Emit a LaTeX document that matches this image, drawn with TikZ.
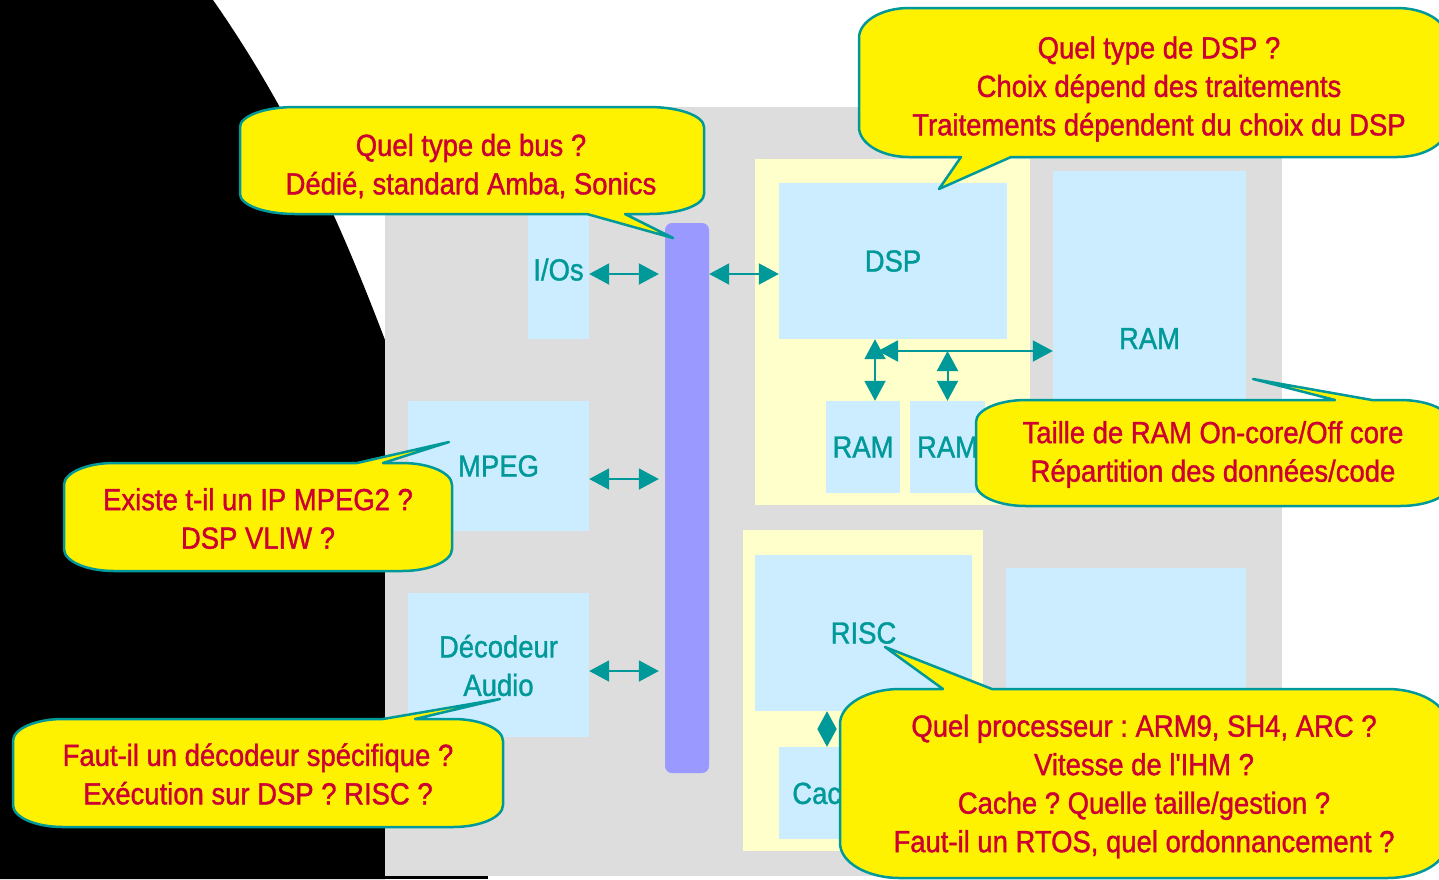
\documentclass[tikz,border=0pt]{standalone}
\usepackage{fontspec}
\setmainfont{Liberation Sans}[FakeStretch=0.9, FakeBold=1.2]
\newfontfamily\plainq{Liberation Sans}[FakeStretch=0.9, FakeBold=1.2]
\frenchspacing
\usetikzlibrary{arrows.meta}
\definecolor{tealc}{HTML}{009999}
\definecolor{redc}{HTML}{CC0033}
\definecolor{lblue}{HTML}{CCECFF}
\definecolor{lyell}{HTML}{FFFFCC}
\definecolor{grayc}{HTML}{DDDDDD}
\definecolor{busc}{HTML}{9999FF}
\tikzset{
  box/.style={fill=lblue, inner sep=0pt, text=tealc, font=\fontsize{30.5}{38.5}\selectfont, align=center},
  zone/.style={fill=lyell, inner sep=0pt},
  link/.style={draw=tealc, color=tealc, line width=2pt, {Triangle[length=20pt,width=21pt]}-{Triangle[length=20pt,width=21pt]}},
  linkd/.style={draw=tealc, color=tealc, line width=2pt, {Triangle[length=18pt,width=19pt]}-{Triangle[length=18pt,width=19pt]}},
  call/.style={fill=yellow, draw=tealc, line width=2.5pt, line join=round},
  qtext/.style={text=redc, font=\fontsize{30.5}{38.5}\selectfont, align=center, inner sep=0pt}
}
% callout with pointer on the bottom edge: x1,y1,x2,y2,rx,ry,pa,pb,(tip)
\newcommand{\bubbleB}[9]{%
  \draw[call] (#1+#5,#2) -- (#3-#5,#2)
    arc[start angle=90,end angle=0,x radius=#5pt,y radius=#6pt] -- (#3,#4-#6)
    arc[start angle=0,end angle=-90,x radius=#5pt,y radius=#6pt] -- (#8,#4) -- #9 -- (#7,#4) -- (#1+#5,#4)
    arc[start angle=-90,end angle=-180,x radius=#5pt,y radius=#6pt] -- (#1,#2+#6)
    arc[start angle=180,end angle=90,x radius=#5pt,y radius=#6pt] -- cycle;}
% callout with pointer on the top edge
\newcommand{\bubbleT}[9]{%
  \draw[call] (#1+#5,#2) -- (#7,#2) -- #9 -- (#8,#2) -- (#3-#5,#2)
    arc[start angle=90,end angle=0,x radius=#5pt,y radius=#6pt] -- (#3,#4-#6)
    arc[start angle=0,end angle=-90,x radius=#5pt,y radius=#6pt] -- (#1+#5,#4)
    arc[start angle=-90,end angle=-180,x radius=#5pt,y radius=#6pt] -- (#1,#2+#6)
    arc[start angle=180,end angle=90,x radius=#5pt,y radius=#6pt] -- cycle;}
\begin{document}
\begin{tikzpicture}[x=1pt,y=-1pt]
\useasboundingbox (0,0) rectangle (1439,879);
\clip (0,0) rectangle (1439,879);
\fill[white] (0,0) rectangle (1439,879);
% black backdrop
\fill[black] (0,0) -- (213,0) .. controls (292,113) and (342,227) .. (385,340) -- (385,879) -- (0,879) -- cycle;
\fill[black] (385,876) rectangle (488,879);
% grey board
\fill[grayc] (385,107) rectangle (1282,876);
% zones
\node[zone, minimum width=275pt, minimum height=346pt] (dspzone) at (892.5,332) {};
\node[zone, minimum width=240pt, minimum height=321pt] (risczone) at (863,690.5) {};
% blocks
\node[box, minimum width=61pt, minimum height=139pt] (ios) at (558.5,269.5) {I/Os};
\node[box, minimum width=181pt, minimum height=130pt] (mpeg) at (498.5,466) {\raisebox{-2pt}{MPEG}};
\node[box, minimum width=181pt, minimum height=144pt] (audio) at (498.5,665) {};
\node[text=tealc, font=\fontsize{30.5}{38.5}\selectfont, align=center, inner sep=0pt] (audiot) at (498.5,665.5) {Décodeur\\Audio};
\node[fill=busc, rounded corners=7pt, inner sep=0pt, minimum width=44pt, minimum height=550pt] (bus) at (687,498) {};
\node[box, minimum width=228pt, minimum height=156pt] (dsp) at (893,261) {\raisebox{-2pt}{DSP}};
\node[box, minimum width=193pt, minimum height=335pt] (ramA) at (1149.5,338.5) {\raisebox{-2pt}{RAM}};
\node[box, minimum width=74pt, minimum height=92pt] (ram1) at (863,447) {\raisebox{-2pt}{RAM}};
\node[box, minimum width=75pt, minimum height=92pt] (ram2) at (947.5,447) {\raisebox{-2pt}{RAM}};
\node[box, minimum width=217pt, minimum height=156pt] (risc) at (863.5,633) {\raisebox{-2pt}{RISC}};
\node[box, minimum width=106pt, minimum height=92pt] (cache) at (832,793) {\raisebox{-2pt}{Cache}};
\node[box, minimum width=240pt, minimum height=192pt] (blank) at (1126,664) {};
% connectors
\draw[link, shorten >=6pt] (ios.east |- 0,274) -- (bus.west |- 0,274);
\draw[link] (bus.east |- 0,274) -- (dsp.west |- 0,274);
\draw[link, shorten >=6pt] (mpeg.east |- 0,479) -- (bus.west |- 0,479);
\draw[link, shorten >=6pt] (audio.east |- 0,671) -- (bus.west |- 0,671);
\coordinate (j) at (878,351);
\draw[link] (dsp.south -| 875,0) -- (ram1.north -| 875,0);
\draw[link] (j) -- (ramA.west |- j);
\draw[link] (ram2.north |- j) -- (ram2.north);
\draw[linkd] (risc.south -| 827,0) -- (cache.north -| 827,0);
% callouts
\bubbleB{240}{107}{704}{214}{55}{20}{587}{625}{(673,238)}
\node[qtext] (q1) at (471,166) {Quel type de bus ?\\Dédié, standard Amba, Sonics};
\bubbleB{859}{8}{1447}{157}{50}{30}{961}{1011}{(939,189)}
\node[qtext] (q2) at (1159,89) {Quel type de DSP ?\\Choix dépend des traitements\\Traitements dépendent du choix du DSP};
\bubbleT{976}{400}{1450}{506}{50}{22}{1335}{1372}{(1253,379)}
\node[qtext] (q3) at (1213,454.5) {Taille de RAM On-core/Off core\\Répartition des données/code};
\bubbleT{64}{463}{452}{571}{50}{22}{357}{383}{(449,442)}
\node[qtext] (q4) at (258,518.5) {Existe t-il un IP MPEG2 ?\\DSP VLIW ?};
\bubbleT{13}{719}{503}{827}{50}{22}{383}{415}{(500,699)}
\node[qtext] (q5) at (258,774) {Faut-il un décodeur spécifique ?\\Exécution sur DSP ? RISC ?};
\bubbleT{840}{689}{1447}{878}{60}{35}{943}{992}{(885,647)}
\node[qtext] (q6) at (1144,786.5) {Quel processeur : ARM9, SH4, ARC ?\\Vitesse de l{\plainq '}IHM ?\\Cache ? Quelle taille/gestion ?\\Faut-il un RTOS, quel ordonnancement ?};
\end{tikzpicture}
\end{document}
